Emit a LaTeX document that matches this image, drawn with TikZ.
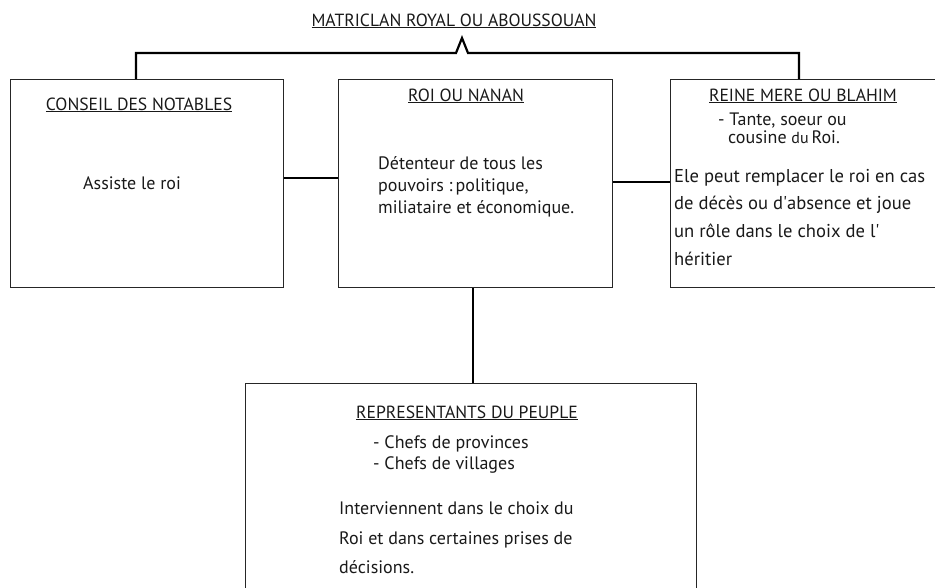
\documentclass[tikz,border=0pt]{standalone}
\usepackage{fontspec}
\setmainfont{PT Sans}
\begin{document}
\begin{tikzpicture}[x=1pt,y=-1pt,
  box/.style={draw=black!85,line width=1.2pt,rectangle,inner sep=0pt,anchor=north west},
  conn/.style={draw=black,line width=2.2pt},
  txt/.style={anchor=base west,inner sep=0pt,font=\fontsize{18}{21}\selectfont,text=black!90},
  head/.style={anchor=base,inner sep=0pt,font=\fontsize{17.6}{21}\selectfont,text=black!90}]
\useasboundingbox (0,0) rectangle (935,587);
\begin{scope}
\clip (0,0) rectangle (935,587);
% boxes
\node[box,minimum width=273pt,minimum height=208pt] (left) at (10,79) {};
\node[box,minimum width=274pt,minimum height=208pt] (mid) at (338,79) {};
\node[box,minimum width=280pt,minimum height=208pt] (right) at (670,79) {};
\node[box,minimum width=451pt,minimum height=230pt] (bot) at (245,383) {};
% connector coordinates
\coordinate (tl) at (136,53);
\coordinate (tr) at (799,53);
\coordinate (c1) at (456,53);
\coordinate (c2) at (462,38);
\coordinate (c3) at (468,53);
\coordinate (hl) at (300,178);
\coordinate (hr) at (640,182);
\coordinate (vb) at (473,330);
% connectors
\draw[conn] (tl |- left.north) -- (tl) -- (c1) -- (c2) -- (c3) -- (tr) -- (tr |- right.north);
\draw[conn] (hl -| left.east) -- (hl -| mid.west);
\draw[conn] (hr -| mid.east) -- (hr -| right.west);
\draw[conn,line width=1.6pt] (vb |- mid.south) -- (vb |- bot.north);
% title
\node[head] (title) at (454,26) {\underline{MATRICLAN ROYAL OU ABOUSSOUAN}};
% left box
\node[head] (lt) at (139,110) {\underline{CONSEIL DES NOTABLES}};
\node[txt] (l1) at (83,189) {Assiste le roi};
% middle box
\node[head] (mt) at (466,101) {\underline{ROI OU NANAN}};
\node[txt] (m1) at (378,169) {Détenteur de tous les};
\node[txt] (m2) at (378,191) {pouvoirs :\,politique,};
\node[txt] (m3) at (378,213) {miliataire et économique.};
% right box
\node[head] (rt) at (803,101) {\underline{REINE MERE OU BLAHIM}};
\node[txt] (r1) at (718,125) {- Tante, soeur ou};
\node[txt] (r2) at (728,143) {cousine {\fontsize{16}{18}\selectfont du}\,Roi.};
\node[txt,font=\fontsize{18.6}{21}\selectfont] (r3) at (674,182) {Ele peut remplacer le roi en cas};
\node[txt,font=\fontsize{18.6}{21}\selectfont] (r4) at (674,209) {de décès ou d\textquotesingle absence et joue};
\node[txt,font=\fontsize{18.6}{21}\selectfont] (r5) at (674,237) {un rôle dans le choix de l\textquotesingle};
\node[txt,font=\fontsize{18.6}{21}\selectfont] (r6) at (674,265) {héritier};
% bottom box
\node[head] (bt) at (467,418) {\underline{REPRESENTANTS DU PEUPLE}};
\node[txt] (b1) at (373,448) {- Chefs de provinces};
\node[txt] (b2) at (373,469) {- Chefs de villages};
\node[txt] (b3) at (339,514) {Interviennent dans le choix du};
\node[txt] (b4) at (339,544) {Roi et dans certaines prises de};
\node[txt] (b5) at (339,573) {décisions.};
\end{scope}
\end{tikzpicture}
\end{document}
